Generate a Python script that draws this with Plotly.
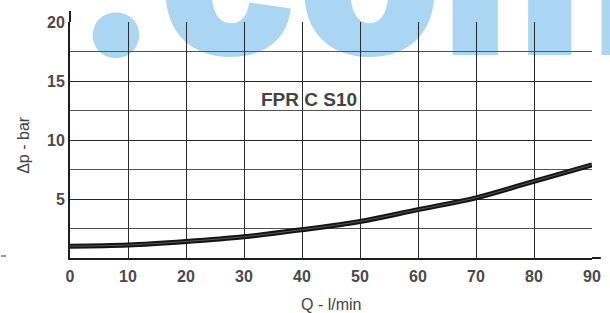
import plotly.graph_objects as go

# Data
q_flow = [0, 10, 20, 30, 40, 50, 60, 70, 80, 90]
dp_bar = [1.0, 1.1, 1.4, 1.8, 2.4, 3.1, 4.1, 5.1, 6.5, 7.9]
x_ticks = [0, 10, 20, 30, 40, 50, 60, 70, 80, 90]
y_ticks = [5, 10, 15, 20]
curve_label = "FPR C S10"
x_title = "Q - l/min"
y_title = "Δp - bar"
watermark = ".com"

BOLD = "Liberation Sans, Arial, sans-serif"
SANS = "Liberation Sans, Arial, sans-serif"

def px(xp):
    return (xp - 70) / 531

def py(yp):
    return (258 - yp) / 236

fig = go.Figure()
fig.add_trace(go.Scatter(x=q_flow, y=dp_bar, mode="lines",
                         line=dict(color="#141414", width=5, shape="spline"),
                         hoverinfo="skip", showlegend=False))
fig.add_trace(go.Scatter(x=q_flow, y=dp_bar, mode="lines",
                         line=dict(color="#6a6a6a", width=0.8, shape="spline"),
                         hoverinfo="skip", showlegend=False))

tickfont = dict(family=BOLD, size=16, color="#4a4a4a", weight="bold")

fig.update_layout(
    width=610, height=313,
    margin=dict(l=70, r=9, t=22, b=55),
    paper_bgcolor="white", plot_bgcolor="rgba(0,0,0,0)",
    showlegend=False,
    xaxis=dict(range=[0, 90], tickvals=x_ticks, ticktext=[str(v) for v in x_ticks],
               showgrid=True, gridcolor="#2a2a2a", gridwidth=1,
               showline=True, linecolor="#1e1e1e", linewidth=2,
               zeroline=False, ticks="", tickfont=tickfont,
               ticklabelstandoff=3),
    yaxis=dict(range=[0, 20], tickvals=y_ticks, ticktext=[str(v) for v in y_ticks],
               showgrid=True, gridcolor="#2a2a2a", gridwidth=1,
               minor=dict(dtick=2.5, tick0=0, showgrid=True, gridcolor="#555555", gridwidth=1),
               showline=True, linecolor="#1e1e1e", linewidth=2,
               zeroline=False, ticks="", tickfont=tickfont,
               ticklabelstandoff=0),
    annotations=[
        dict(text="<b>" + curve_label + "</b>", x=41.2, y=13.4, xref="x", yref="y",
             showarrow=False, font=dict(family=BOLD, size=19, color="#444444")),
        dict(text=x_title, x=px(335), y=py(304), xref="paper", yref="paper",
             xanchor="center", yanchor="middle",
             showarrow=False, font=dict(family=SANS, size=16, color="#444444")),
        dict(text=y_title, x=px(22), y=py(145), xref="paper", yref="paper",
             xanchor="center", yanchor="middle",
             showarrow=False, textangle=-90, font=dict(family=SANS, size=16, color="#444444")),
    ],
    shapes=[
        # watermark text below the grid
        dict(type="rect", xref="paper", yref="paper",
             x0=px(72), x1=px(74), y0=py(104), y1=py(102),
             line=dict(width=0), fillcolor="rgba(0,0,0,0)", layer="below",
             label=dict(text=watermark, textposition="middle center",
                        xanchor="left", yanchor="bottom",
                        font=dict(family="Inter, Lato, Open Sans, sans-serif", size=230,
                                  weight=900, color="#aad6f4"),
                        padding=0)),
        # left axis extension above 20
        dict(type="line", xref="paper", yref="paper", x0=0, x1=0,
             y0=1, y1=py(11), line=dict(color="#1e1e1e", width=2)),
        # bottom axis extension past 90
        dict(type="line", xref="paper", yref="paper", x0=1, x1=px(610),
             y0=0, y1=0, line=dict(color="#1e1e1e", width=2)),
        # small stray tick at far left
        dict(type="line", xref="paper", yref="paper", x0=px(0), x1=px(5),
             y0=py(256), y1=py(256), line=dict(color="#333333", width=1)),
    ],
)

fig.write_html("out.html", config={"displayModeBar": False},
               post_script="document.body.style.margin='0';")
